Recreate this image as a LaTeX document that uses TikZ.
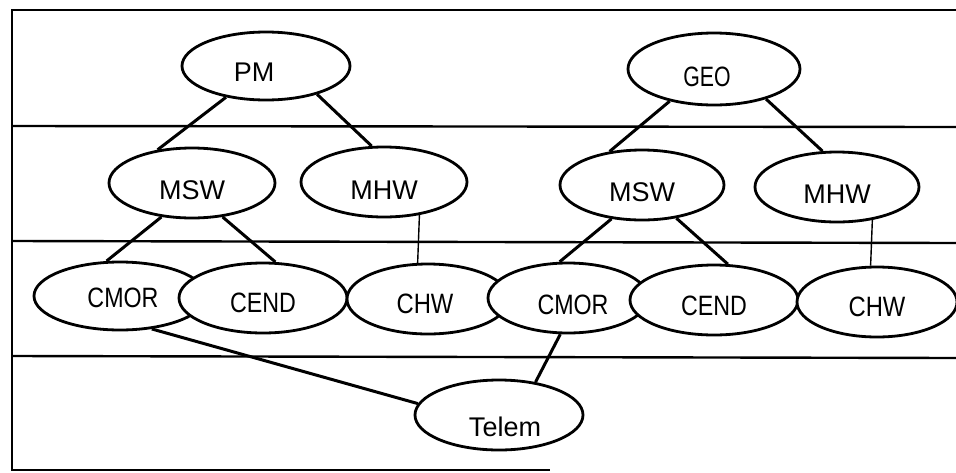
\documentclass[tikz,border=0pt]{standalone}
\usepackage{fontspec}
\setmainfont{Liberation Sans}
\usetikzlibrary{shapes.geometric}
\newcommand{\lb}[3]{\raisebox{-#2pt}{\makebox[0pt]{\hspace*{#1pt}\hspace*{#1pt}#3}}}
\newcommand{\cn}[4]{\raisebox{-#2pt}{\makebox[0pt]{\hspace*{#1pt}\hspace*{#1pt}\scalebox{#3}[1]{#4}}}}
\tikzset{
  oval/.style={ellipse, draw, line width=2.8pt, fill=white, inner sep=0pt,
    text height=19pt, text depth=0pt, font=\fontsize{27}{27}\selectfont},
  condensed/.style={font=\fontsize{28}{28}\selectfont},
  conn/.style={line width=3pt},
  thinconn/.style={line width=1.4pt},
  band/.style={line width=2.4pt},
}
\begin{document}
\begin{tikzpicture}[x=1pt,y=1pt]
\useasboundingbox (0,0) rectangle (956,-472);
% frame and bands
\draw[band] (956,-10) -- (12,-10) -- (12,-470) -- (550,-470);
\draw[band] (12,-126) -- (956,-127);
\draw[band] (12,-241) -- (956,-243);
\draw[band] (12,-356) -- (956,-358);
% nodes
\node[oval, minimum width=168, minimum height=68] (PM) at (266,-66) {\lb{-12}{6}{PM}};
\node[oval, condensed, minimum width=172, minimum height=72] (GEO) at (714,-69) {\cn{-7}{8}{0.76}{GEO}};
\node[oval, minimum width=166, minimum height=70] (MSW1) at (192,-183) {\lb{0}{7}{MSW}};
\node[oval, minimum width=166, minimum height=70] (MHW1) at (384,-182) {\lb{0}{8}{MHW}};
\node[oval, minimum width=164, minimum height=70] (MSW2) at (642,-185) {\lb{0}{7}{MSW}};
\node[oval, minimum width=164, minimum height=70] (MHW2) at (837,-187) {\lb{0}{7}{MHW}};
\node[oval, condensed, minimum width=172, minimum height=68] (CMOR1) at (120,-296) {\cn{3}{2}{0.83}{CMOR}};
\node[oval, condensed, minimum width=168, minimum height=70] (CEND1) at (263,-298) {\cn{0}{5}{0.83}{CEND}};
\node[oval, condensed, minimum width=162, minimum height=70] (CHW1) at (428,-299) {\cn{-3}{5}{0.85}{CHW}};
\node[oval, condensed, minimum width=160, minimum height=70] (CMOR2) at (568,-298) {\cn{5}{7}{0.83}{CMOR}};
\node[oval, condensed, minimum width=168, minimum height=70] (CEND2) at (714,-300) {\cn{0}{6}{0.83}{CEND}};
\node[oval, condensed, minimum width=160, minimum height=70] (CHW2) at (877,-302) {\cn{0}{5}{0.85}{CHW}};
\node[oval, minimum width=168, minimum height=70] (Telem) at (499,-415) {\lb{6}{12}{Telem}};
% connectors
\draw[conn] (PM.218) -- (MSW1.136);
\draw[conn] (PM.331) -- (MHW1.109);
\draw[conn] (MSW1.228) -- (CMOR1.111);
\draw[conn] (MSW1.312) -- (CEND1.71);
\draw[thinconn] (MHW1.-43) -- (CHW1.106);
\draw[conn] (GEO.216) -- (MSW2.134);
\draw[conn] (GEO.330) -- (MHW2.112);
\draw[conn] (MSW2.228) -- (CMOR2.103);
\draw[conn] (MSW2.316) -- (CEND2.69);
\draw[thinconn] (MHW2.-43) -- (CHW2.100);
\draw[conn] (CMOR1.314) -- (Telem.172);
\draw[conn] (CMOR2.258) -- (Telem.42);
\end{tikzpicture}
\end{document}
